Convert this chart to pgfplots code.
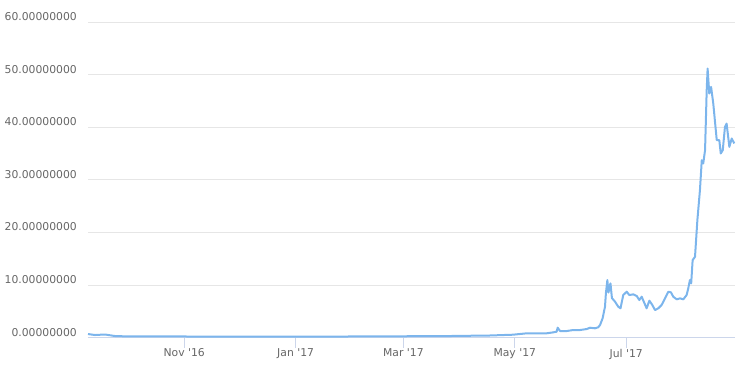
\documentclass[border=0pt]{standalone}
\usepackage{pgfplots}
\pgfplotsset{compat=1.18}
\usepackage{fontspec}
\setmainfont{DejaVu Sans}
\definecolor{linec}{HTML}{7CB5EC}
\definecolor{gridc}{HTML}{E6E6E6}
\definecolor{axisc}{HTML}{CCD6EB}
\definecolor{labc}{HTML}{666666}
\pgfplotstableread{
day val
-52.7 0.68
-48.9 0.49
-43.4 0.59
-38.0 0.30
-29.7 0.21
-18.8 0.21
-10.6 0.25
0.0 0.21
36.0 0.19
63.3 0.19
90.7 0.21
118.1 0.25
145.5 0.30
167.4 0.40
180.0 0.55
187.7 0.82
194.8 0.82
198.5 0.82
202.1 1.00
203.9 1.12
204.5 1.88
205.8 1.25
209.4 1.25
213.0 1.44
216.7 1.44
220.4 1.63
222.2 1.88
224.9 1.77
226.7 1.96
227.7 2.40
229.1 3.67
230.4 5.87
230.9 8.42
231.7 10.95
232.3 8.57
233.4 10.32
234.2 7.53
235.9 6.83
237.7 5.87
238.9 5.57
240.4 8.10
242.3 8.73
243.7 8.10
245.9 8.23
247.8 7.91
249.2 7.15
250.5 7.78
253.2 5.57
254.7 7.02
256.0 6.39
257.8 5.25
259.6 5.57
261.4 6.20
263.3 7.47
265.1 8.73
266.5 8.61
267.8 7.78
269.7 7.28
271.5 7.47
273.3 7.28
275.1 8.10
276.0 9.37
276.9 10.95
277.6 10.32
278.4 14.75
279.7 15.38
281.0 22.40
282.4 28.06
283.4 33.76
284.2 33.14
285.2 35.67
286.1 47.07
286.6 51.20
287.5 46.44
288.5 47.70
289.7 44.54
291.6 37.57
293.0 37.57
293.8 35.04
294.9 35.67
296.1 40.10
297.0 40.74
298.5 36.29
299.8 37.89
301.2 36.94
}\pricedata
\begin{document}
\begin{tikzpicture}
\useasboundingbox (-88bp,-34.4bp) rectangle (650bp,337.6bp);
\begin{axis}[
  at={(0,0)}, anchor=south west,
  scale only axis,
  width=647bp, height=315.3bp,
  xmin=-52.7, xmax=301.6,
  ymin=0, ymax=60,
  axis x line*=bottom, axis y line*=left,
  x axis line style={draw=axisc, line width=1bp, -},
  y axis line style={draw=none},
  ymajorgrids,
  grid style={draw=gridc, line width=1bp},
  xtick={0,61,120,181,242},
  xticklabels={Nov \textquotesingle16, Jan \textquotesingle17, Mar \textquotesingle17, May \textquotesingle17, Jul \textquotesingle17},
  ytick={0,10,20,30,40,50,60},
  yticklabels={0.00000000,10.00000000,20.00000000,30.00000000,40.00000000,50.00000000,60.00000000},
  xtick align=outside,
  ytick align=inside,
  major tick length=10bp,
  xtick style={draw=axisc, line width=1bp},
  ytick style={draw=none},
  ticklabel style={font=\fontsize{10.8bp}{13bp}\selectfont, text=labc},
  yticklabel style={anchor=east, inner sep=0pt, xshift=-11bp, yshift=5.5bp},
  xticklabel style={anchor=north, inner sep=0pt, yshift=-1bp},
  clip=false,
]
\addplot[color=linec, line width=2bp, line join=round, no marks] table[x=day, y=val] {\pricedata};
\end{axis}
\end{tikzpicture}
\end{document}
